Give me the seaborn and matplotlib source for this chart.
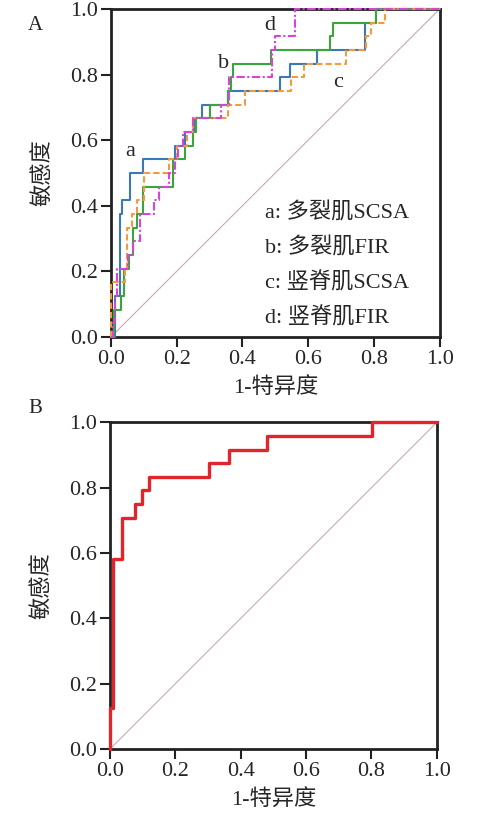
import matplotlib
matplotlib.use("Agg")
import matplotlib.pyplot as plt
import seaborn as sns
import pandas as pd

sns.set_style("ticks")
plt.rcParams['font.family'] = ['Liberation Serif', 'Noto Sans CJK SC']

# ROC points (fpr, tpr); drawn as steps
fpr_a = [0, 0.012, 0.027, 0.035, 0.058, 0.097, 0.195, 0.225, 0.252, 0.276, 0.357, 0.514, 0.544, 0.627, 0.772, 0.805, 1.0]
tpr_a = [0, 0.125, 0.375, 0.417, 0.5, 0.542, 0.583, 0.625, 0.667, 0.708, 0.75, 0.792, 0.833, 0.875, 0.958, 1.0, 1.0]

fpr_b = [0, 0.011, 0.031, 0.04, 0.055, 0.067, 0.08, 0.097, 0.19, 0.225, 0.25, 0.26, 0.30, 0.357, 0.365, 0.37, 0.488, 0.666, 0.676, 0.805, 1.0]
tpr_b = [0, 0.083, 0.125, 0.208, 0.25, 0.333, 0.375, 0.458, 0.542, 0.583, 0.625, 0.667, 0.708, 0.75, 0.792, 0.833, 0.875, 0.917, 0.958, 1.0, 1.0]

fpr_c = [0, 0, 0.043, 0.05, 0.065, 0.08, 0.10, 0.178, 0.20, 0.23, 0.25, 0.357, 0.407, 0.549, 0.587, 0.714, 0.777, 0.792, 0.833, 1.0]
tpr_c = [0, 0.167, 0.208, 0.333, 0.375, 0.417, 0.5, 0.542, 0.583, 0.625, 0.667, 0.708, 0.75, 0.792, 0.833, 0.875, 0.917, 0.958, 1.0, 1.0]

fpr_d = [0, 0.005, 0.012, 0.02, 0.053, 0.068, 0.088, 0.13, 0.145, 0.178, 0.195, 0.205, 0.22, 0.25, 0.336, 0.36, 0.49, 0.50, 0.56, 1.0]
tpr_d = [0, 0.042, 0.125, 0.208, 0.25, 0.292, 0.375, 0.417, 0.458, 0.5, 0.542, 0.583, 0.625, 0.667, 0.708, 0.792, 0.875, 0.917, 1.0, 1.0]

fpr_comb = [0, 0, 0.008, 0.01, 0.036, 0.078, 0.099, 0.119, 0.302, 0.364, 0.481, 0.803, 1.0]
tpr_comb = [0, 0.125, 0.417, 0.583, 0.708, 0.75, 0.792, 0.833, 0.875, 0.917, 0.958, 1.0, 1.0]

curve_tags = ['a', 'b', 'c', 'd']
legend_labels = ['a: 多裂肌SCSA', 'b: 多裂肌FIR', 'c: 竖脊肌SCSA', 'd: 竖脊肌FIR']
ticks = [0.0, 0.2, 0.4, 0.6, 0.8, 1.0]
tick_labels = ['0.0', '0.2', '0.4', '0.6', '0.8', '1.0']

fig = plt.figure(figsize=(4.8, 8.25), dpi=100)
axA = fig.add_axes([0.231, 0.5915, 0.685, 0.3976])
axB = fig.add_axes([0.229, 0.092, 0.681, 0.396])

styles = [
    dict(color='#3b78b8', linestyle='-', linewidth=1.5),
    dict(color='#3aa53a', linestyle='-', linewidth=1.5),
    dict(color='#f29a3c', linestyle=(0, (3, 1.5)), linewidth=1.5),
    dict(color='#d844d8', linestyle=(0, (4, 1.2, 1, 1.2)), linewidth=1.5),
]
curves = [(fpr_a, tpr_a), (fpr_b, tpr_b), (fpr_c, tpr_c), (fpr_d, tpr_d)]

for (fx, ty), st in zip(curves, styles):
    df = pd.DataFrame({'fpr': fx, 'tpr': ty})
    sns.lineplot(data=df, x='fpr', y='tpr', ax=axA, sort=False, estimator=None,
                 drawstyle='steps-post', clip_on=False, zorder=5, **st)

df_comb = pd.DataFrame({'fpr': fpr_comb, 'tpr': tpr_comb})
sns.lineplot(data=df_comb, x='fpr', y='tpr', ax=axB, sort=False, estimator=None,
             drawstyle='steps-post', color='#e0262b', linewidth=2.4,
             clip_on=False, zorder=5)

for ax in (axA, axB):
    sns.lineplot(x=[0, 1], y=[0, 1], ax=ax, color='#c9a9b2', linewidth=0.8)
    ax.set_xlim(0, 1)
    ax.set_ylim(0, 1)
    ax.set_xticks(ticks)
    ax.set_xticklabels(tick_labels)
    ax.set_yticks(ticks)
    ax.set_yticklabels(tick_labels)
    ax.tick_params(direction='out', length=7, width=1.5, labelsize=16, pad=2, color='#222222')
    for sp in ax.spines.values():
        sp.set_linewidth(2)
        sp.set_color('#222222')
        sp.set_visible(True)
    ax.set_xlabel('1-特异度', fontsize=16, labelpad=7)
    ax.set_ylabel('敏感度', fontsize=16, labelpad=12)

# curve tags and text legend in panel A
tag_pos = [(0.058, 0.565), (0.343, 0.835), (0.69, 0.775), (0.483, 0.95)]
for tag, (tx, ty) in zip(curve_tags, tag_pos):
    axA.text(tx, ty, tag, fontsize=16, ha='center', va='center')
leg_y = [0.378, 0.271, 0.165, 0.058]
for lab, ly in zip(legend_labels, leg_y):
    axA.text(0.47, ly, lab, fontsize=16, ha='left', va='center')

fig.text(35 / 480, 1 - 25 / 825, 'A', fontsize=15, ha='center', va='center')
fig.text(35 / 480, 1 - 408 / 825, 'B', fontsize=15, ha='center', va='center')

fig.savefig('out.png', dpi=100)
